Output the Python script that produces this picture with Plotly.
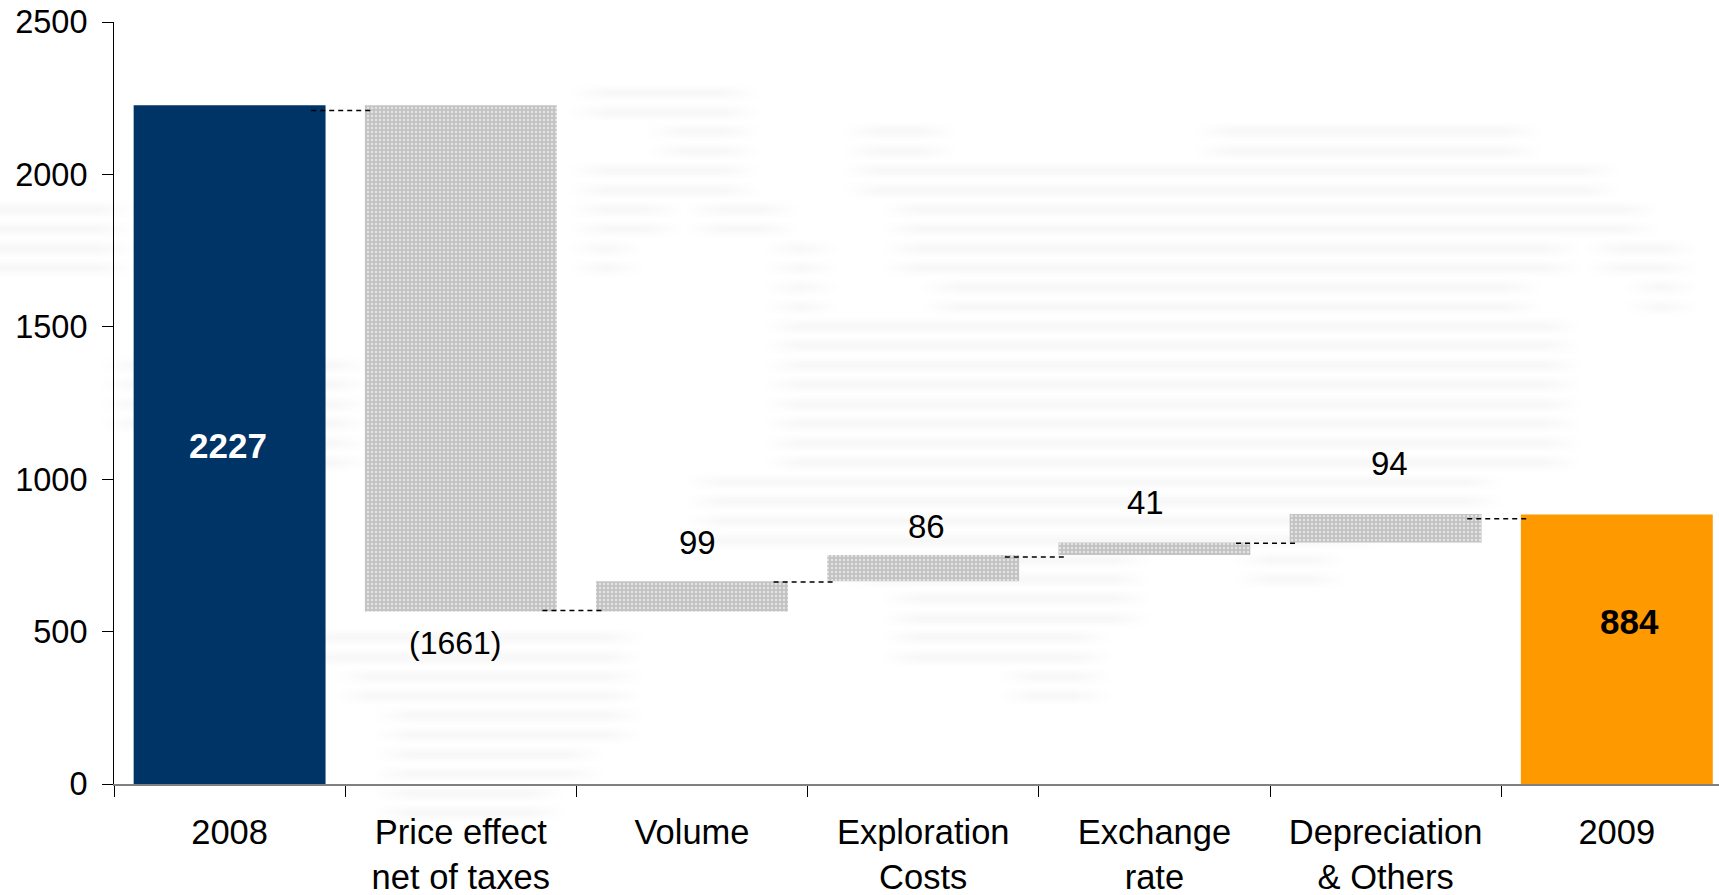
import plotly.graph_objects as go

# Net income bridge, 2008 to 2009
categories = ["2008", "Price effect<br>net of taxes", "Volume", "Exploration<br>Costs",
              "Exchange<br>rate", "Depreciation<br>& Others", "2009"]
opening_2008 = 2227
closing_2009 = 884
change_labels = ["(1661)", "99", "86", "41", "94"]
change_values = [-1661, 99, 86, 41, 94]
connector_levels = [2210, 569, 663, 745, 790, 870]
y_ticks = [0, 500, 1000, 1500, 2000, 2500]

# Where each value label sits, in axis units
label_x = [-0.005, 0.977, 2.022, 3.015, 3.96, 5.015, 6.055]
label_y = [1112, 462, 792, 846, 922, 1051, 533]

# Land mask of the pale world map behind the chart
map_rows = [
    "",
    "",
    "...............####",
    ".................##...##.......########",
    "...............####...###################",
    "###............##.##...###################",
    "###............#....#..#################.##",
    "....................#...###############...#",
    "....................####################",
    "...######...........####################",
    "...######...........####################",
    ".......##...........####################",
    "..................####################",
    "..................#################",
    "......................#######...##",
    ".......................######",
    "........########.......#####",
    ".........#######..........##",
    "..........######",
    "..........#####",
    "..........####",
    "",
    "",
]
map_cols = 44
map_sub_rows = 4
map_z = []
for row in map_rows:
    cells = [1 if c == "#" else 0 for c in row.ljust(map_cols, ".")]
    # Every land row is printed as two thin stripes
    for sub in range(map_sub_rows):
        map_z.append(cells if sub % 2 == 1 else [0] * map_cols)

FONT = "Liberation Sans, Arial, sans-serif"
NAVY = "#003366"
ORANGE = "#FF9900"

levels = [opening_2008]
for v in change_values:
    levels.append(levels[-1] + v)
bases = [min(levels[i], levels[i + 1]) for i in range(len(change_values))]
heights = [abs(v) for v in change_values]

fig = go.Figure()

fig.add_trace(go.Heatmap(
    z=map_z, xaxis="x", yaxis="y", zsmooth="best", showscale=False, hoverinfo="skip",
    zmin=0, zmax=1, colorscale=[[0, "#ffffff"], [1, "#f7f7f7"]],
))

fig.add_trace(go.Bar(
    x=[0], y=[opening_2008], xaxis="x2", yaxis="y2",
    marker=dict(color=NAVY, line=dict(width=0)), showlegend=False,
))
fig.add_trace(go.Bar(
    x=list(range(1, 6)), y=heights, base=bases, xaxis="x2", yaxis="y2", showlegend=False,
    marker=dict(
        color="#c2c2c2", line=dict(width=0),
        pattern=dict(shape=".", bgcolor="#c2c2c2", fgcolor="#e4e4e4",
                     size=4, solidity=0.3, fillmode="replace"),
    ),
))
fig.add_trace(go.Bar(
    x=[6], y=[closing_2009], xaxis="x2", yaxis="y2",
    marker=dict(color=ORANGE, line=dict(width=0)), showlegend=False,
))

# Dashed connectors crossing the gap between neighbouring columns
conn_x, conn_y = [], []
for i, level in enumerate(connector_levels):
    conn_x += [i + 0.487 - 0.134, i + 0.487 + 0.134, None]
    conn_y += [level, level, None]
fig.add_trace(go.Scatter(
    x=conn_x, y=conn_y, xaxis="x2", yaxis="y2", mode="lines", showlegend=False,
    line=dict(color="#000000", width=1.5, dash="5px,4px"),
))

texts = [str(opening_2008)] + change_labels + [str(closing_2009)]
colours = ["#ffffff"] + ["#000000"] * 6
weights = ["<b>%s</b>"] + ["%s"] * 5 + ["<b>%s</b>"]
sizes = [35, 32, 33, 33, 33, 33, 35]
annotations = [
    dict(x=x, y=y, xref="x2", yref="y2", text=w % t, showarrow=False,
         font=dict(family=FONT, size=s, color=c), xanchor="center", yanchor="middle")
    for x, y, t, c, w, s in zip(label_x, label_y, texts, colours, weights, sizes)
]

fig.update_layout(
    width=1719, height=895,
    margin=dict(l=0, r=0, t=0, b=0),
    paper_bgcolor="#ffffff", plot_bgcolor="rgba(0,0,0,0)",
    barmode="overlay", bargap=0.17, showlegend=False,
    font=dict(family=FONT, size=33, color="#000000"),
    annotations=annotations,
    xaxis=dict(domain=[0, 1], range=[-0.5, 43.5], visible=False, fixedrange=True,
               anchor="y", automargin=False),
    yaxis=dict(domain=[0, 1], range=[len(map_z) - 0.5, -0.5], visible=False, fixedrange=True,
               anchor="x", automargin=False),
    xaxis2=dict(
        domain=[114 / 1719, 1], anchor="y2", range=[-0.5, 6.442], automargin=False,
        tickmode="array", tickvals=list(range(7)), ticktext=categories, ticks="",
        ticklabelstandoff=17, tickfont=dict(family=FONT, size=34.5, color="#000000"),
        showgrid=False, zeroline=False, showline=True, linecolor="#808080", linewidth=2,
        minor=dict(tickmode="array", tickvals=[i - 0.5 for i in range(8)], ticks="outside",
                   ticklen=11, tickwidth=1, tickcolor="#000000", showgrid=False),
    ),
    yaxis2=dict(
        domain=[111 / 895, 873 / 895], anchor="x2", range=[0, 2500], automargin=False,
        tickmode="array", tickvals=y_ticks, ticks="outside", ticklen=11, tickwidth=1,
        tickcolor="#000000", ticklabelstandoff=8,
        tickfont=dict(family=FONT, size=32.5, color="#000000"),
        showgrid=False, zeroline=False, showline=True, linecolor="#000000", linewidth=1,
    ),
)

fig.write_html("out.html")
